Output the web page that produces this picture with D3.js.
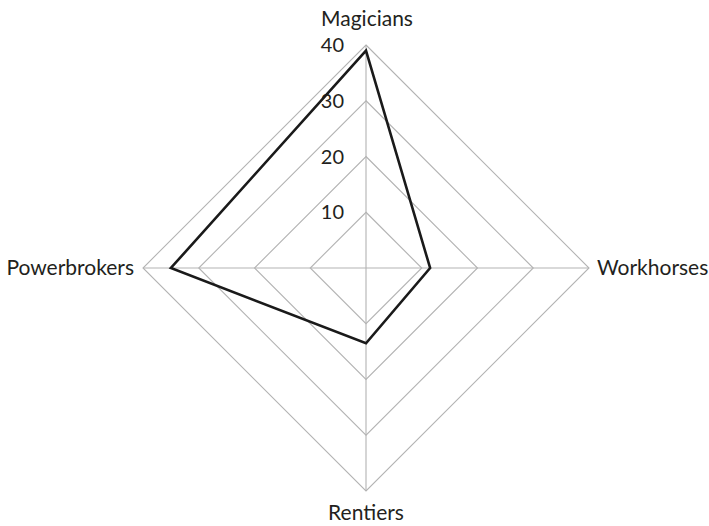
<!DOCTYPE html>
<html>
<head>
<meta charset="utf-8">
<script src="https://cdn.jsdelivr.net/npm/d3@7"></script>
<style>
  html, body { margin: 0; padding: 0; background: #fff; }
  svg { display: block; }
  text { font-family: Lato, "Open Sans", sans-serif; fill: #231f20; }
</style>
</head>
<body>
<svg id="chart" width="709" height="526"></svg>
<script>
// Axes, clockwise from the top
const categories = ["Magicians", "Workhorses", "Rentiers", "Powerbrokers"];
const values = [39, 11.5, 13.5, 35];
const tickValues = [10, 20, 30, 40];
const maxValue = 40;

const cx = 366, cy = 268, radius = 223;
const svg = d3.select("#chart");
const r = d3.scaleLinear().domain([0, maxValue]).range([0, radius]);
const angle = d3.scaleLinear().domain([0, categories.length]).range([0, 2 * Math.PI]);

const pt = (i, v) => {
  const a = angle(i);
  return [cx + r(v) * Math.sin(a), cy - r(v) * Math.cos(a)];
};

const g = svg.append("g");

// Concentric grid diamonds
const ring = d3.line().curve(d3.curveLinearClosed);
g.selectAll("path.ring")
  .data(tickValues)
  .join("path")
  .attr("class", "ring")
  .attr("d", v => ring(categories.map((c, i) => pt(i, v))))
  .attr("fill", "none")
  .attr("stroke", "#b3b3b3")
  .attr("stroke-width", 1.1);

// Spokes
g.selectAll("line.spoke")
  .data(categories)
  .join("line")
  .attr("class", "spoke")
  .attr("x1", cx).attr("y1", cy)
  .attr("x2", (c, i) => pt(i, maxValue)[0])
  .attr("y2", (c, i) => pt(i, maxValue)[1])
  .attr("stroke", "#b3b3b3")
  .attr("stroke-width", 1.1);

// Value scale along the top spoke
g.selectAll("text.tick")
  .data(tickValues)
  .join("text")
  .attr("class", "tick")
  .attr("x", cx - 22)
  .attr("y", v => cy - r(v) + 7)
  .attr("text-anchor", "end")
  .attr("font-size", 20)
  .text(d => d);

// Data polygon
g.append("path")
  .attr("d", ring(values.map((v, i) => pt(i, v))))
  .attr("fill", "none")
  .attr("stroke", "#1a1a1a")
  .attr("stroke-width", 2.6)
  .attr("stroke-linejoin", "miter");

// Category labels
const labelPos = [
  { x: cx + 1, y: 26, anchor: "middle" },
  { x: cx + radius + 8, y: cy + 7, anchor: "start" },
  { x: cx, y: 520, anchor: "middle" },
  { x: cx - radius - 9, y: cy + 7, anchor: "end" }
];
g.selectAll("text.cat")
  .data(categories)
  .join("text")
  .attr("class", "cat")
  .attr("x", (c, i) => labelPos[i].x)
  .attr("y", (c, i) => labelPos[i].y)
  .attr("text-anchor", (c, i) => labelPos[i].anchor)
  .attr("font-size", 21)
  .text(d => d);
</script>
</body>
</html>
